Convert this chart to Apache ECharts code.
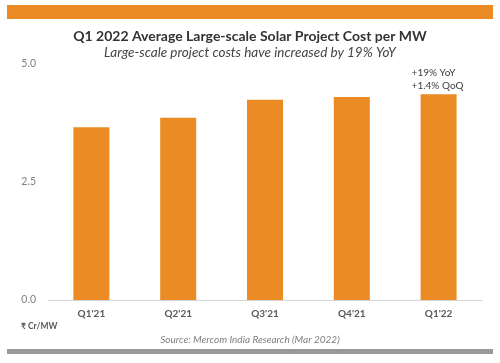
<!DOCTYPE html>
<html><head><meta charset="utf-8">
<script src="https://cdn.jsdelivr.net/npm/echarts@6/dist/echarts.min.js"></script>
<style>html,body{margin:0;padding:0;background:#fff}#c{width:500px;height:363px}</style>
</head><body><div id="c"></div>
<script>
const categories = ["Q1'21", "Q2'21", "Q3'21", "Q4'21", "Q1'22"];
const costValues = [3.66, 3.86, 4.24, 4.30, 4.36];
const yTicks = [0, 2.5, 5];
const titleText = 'Q1 2022 Average Large-scale Solar Project Cost per MW';
const subtitleText = 'Large-scale project costs have increased by 19% YoY';
const sourceText = 'Source: Mercom India Research (Mar 2022)';
const unitText = '₹ Cr/MW';
const noteText = '+19% YoY\n+1.4% QoQ';

const FONT = 'Lato, "Open Sans", sans-serif';
const ORANGE = '#EA8B24';

const chart = echarts.init(document.getElementById('c'), null, {renderer: 'canvas'});
const data = costValues.map((v, i) => {
  if (i === costValues.length - 1) {
    return {value: v, label: {show: true, position: 'top', formatter: noteText,
      align: 'left', offset: [-27, 3], color: '#404040', fontSize: 10, lineHeight: 13, fontFamily: FONT}};
  }
  return v;
});
chart.setOption({
  animation: false,
  title: [
    {text: titleText, left: 'center', top: 24,
     textStyle: {fontFamily: FONT, fontSize: 14, fontWeight: 'bold', color: '#333'}},
    {text: subtitleText, left: 'center', top: 41,
     textStyle: {fontFamily: FONT, fontSize: 13.5, fontStyle: 'italic', fontWeight: 'normal', color: '#444'}},
    {text: sourceText, left: 'center', top: 330,
     textStyle: {fontFamily: FONT, fontSize: 10, fontStyle: 'italic', fontWeight: 'normal', color: '#7f7f7f'}},
    {text: unitText, left: 16, top: 317,
     textStyle: {fontFamily: FONT, fontSize: 8.5, fontWeight: 'bold', color: '#595959'}}
  ],
  graphic: [
    {type: 'rect', left: 7, top: 5, shape: {width: 486, height: 14}, style: {fill: ORANGE}},
    {type: 'rect', left: 7, top: 349, shape: {width: 486, height: 5}, style: {fill: '#999999'}}
  ],
  grid: {left: 48, right: 18, top: 64, bottom: 63},
  xAxis: {
    type: 'category', data: categories,
    axisLine: {show: true, lineStyle: {color: '#d9d9d9', width: 1}},
    axisTick: {show: false},
    axisLabel: {fontFamily: FONT, fontSize: 10, fontWeight: 'bold', color: '#595959', margin: 9}
  },
  yAxis: {
    type: 'value', min: 0, max: 5, interval: 2.5,
    axisLine: {show: false}, axisTick: {show: false}, splitLine: {show: false},
    axisLabel: {fontFamily: FONT, fontSize: 10.5, color: '#7f7f7f', margin: 12,
      formatter: v => yTicks.includes(v) ? v.toFixed(1) : ''}
  },
  series: [{
    type: 'bar', data: data, barWidth: 36, itemStyle: {color: ORANGE},
    label: {show: false}
  }]
});
</script></body></html>
